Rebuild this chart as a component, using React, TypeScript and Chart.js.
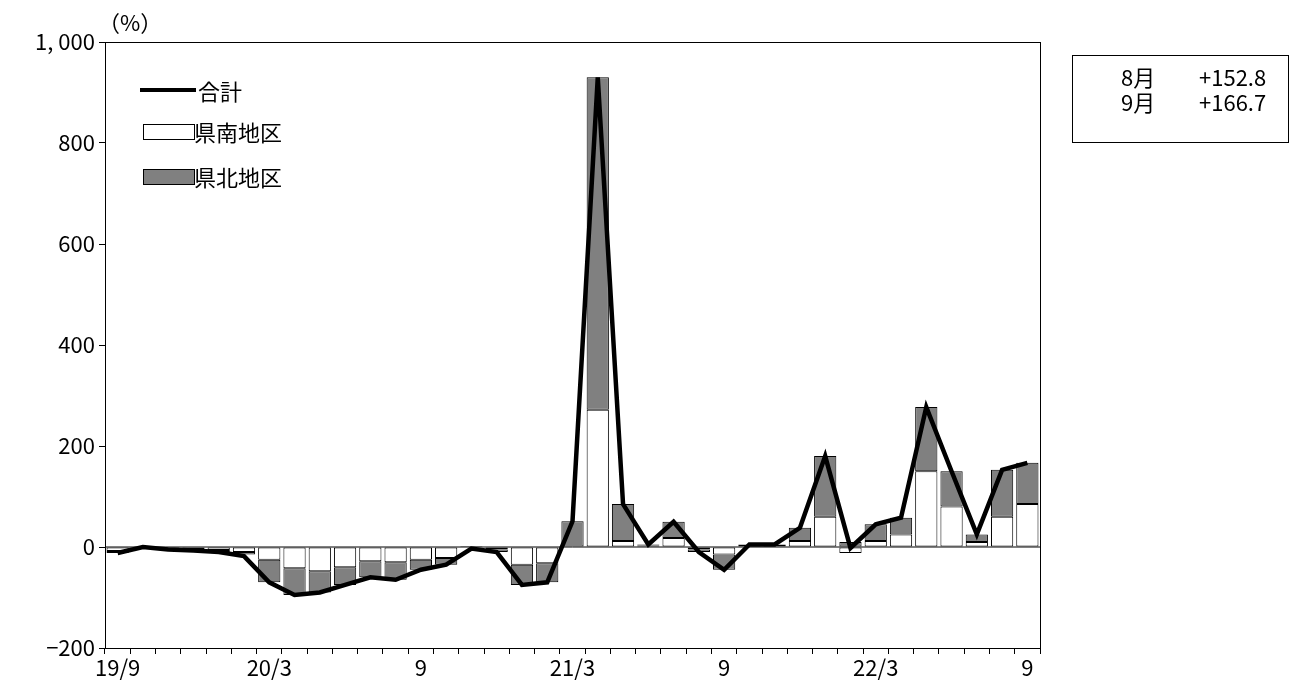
import React, { useEffect, useRef } from "react";
import { Chart, registerables } from "chart.js";
Chart.register(...registerables);

const labels = ["19/9","","","","","","20/3","","","","","","9","","","","","","21/3","","","","","","9","","","","","","22/3","","","","","","9"];
const south = [-8,0,-3,-4,-6,-10,-25,-42,-48,-40,-28,-30,-25,-22,2,-5,-35,-32,0,272,12,3,18,-5,-15,2,2,12,60,-12,12,25,150,80,10,60,85];
const north = [-4,0,-2,-3,-4,-5,-45,-53,-42,-35,-32,-35,-20,-13,0,-5,-40,-38,51,658,73,2,32,-5,-30,3,3,26,120,10,33,33,127,70,15,92.8,81.7];
const total = [-12,0,-5,-7,-10,-18,-70,-95,-90,-75,-60,-65,-45,-35,-3,-10,-75,-70,51,930,85,5,50,-10,-45,5,5,38,180,-2,45,58,277,150,25,152.8,166.7];

const FONT = "'Noto Sans CJK JP', sans-serif";

const frame = {
  id: "frame",
  afterDraw(c: any) {
    const { left, right, top, bottom } = c.chartArea;
    const ctx = c.ctx;
    ctx.save();
    ctx.strokeStyle = "#000";
    ctx.lineWidth = 1;
    ctx.strokeRect(left + 0.5, top + 0.5, right - left, bottom - top);
    const y0 = c.scales.y.getPixelForValue(0);
    ctx.beginPath();
    ctx.moveTo(left, y0); ctx.lineTo(right, y0); ctx.stroke();
    ctx.restore();
  },
};

export default function App() {
  const ref = useRef<HTMLCanvasElement>(null);
  useEffect(() => {
    const c = new Chart(ref.current!, {
      data: {
        labels,
        datasets: [
          { type: "line", data: total, borderColor: "#000", borderWidth: 4.5, pointRadius: 0, tension: 0, order: 0 },
          { type: "bar", data: south, backgroundColor: "#fff", borderColor: "#000", borderWidth: 1, borderSkipped: false, stack: "s", order: 1, categoryPercentage: 1, barPercentage: 0.88 },
          { type: "bar", data: north, backgroundColor: "#808080", borderColor: "#000", borderWidth: 1, borderSkipped: false, stack: "s", order: 1, categoryPercentage: 1, barPercentage: 0.88 },
        ],
      } as any,
      plugins: [frame],
      options: {
        animation: false,
        responsive: false,
        layout: { padding: { top: 42, right: 259, left: 0, bottom: 0 } },
        plugins: { legend: { display: false }, tooltip: { enabled: false } },
        scales: {
          x: {
            stacked: true,
            afterFit: (s: any) => { s.height = 48; },
            grid: { drawOnChartArea: false, offset: true, tickLength: 6, color: "#000" },
            border: { color: "#000" },
            ticks: { autoSkip: false, maxRotation: 0, color: "#000", font: { family: FONT, size: 22 }, padding: 0 },
          },
          y: {
            stacked: true,
            min: -200, max: 1000,
            afterFit: (s: any) => { s.width = 105; },
            grid: { drawOnChartArea: false, tickLength: 6, color: "#000" },
            border: { color: "#000" },
            ticks: {
              stepSize: 200, color: "#000", font: { family: FONT, size: 22 }, padding: 4,
              callback: (v: any) => (v === 1000 ? "1, 000" : v < 0 ? "\u2212" + Math.abs(v) : String(v)),
            },
          },
        },
      },
    });
    return () => c.destroy();
  }, []);
  const t: React.CSSProperties = { position: "absolute", fontFamily: FONT, fontSize: 22, color: "#000", lineHeight: "26px" };
  return (
    <div style={{ position: "absolute", left: 0, top: 0, width: 1299, height: 696, background: "#fff" }}>
      <canvas ref={ref} width={1299} height={696} />
      <div style={{ ...t, left: 98, top: 8 }}>（%）</div>
      <div style={{ position: "absolute", left: 140, top: 88, width: 56, height: 4, background: "#000" }} />
      <div style={{ ...t, left: 198, top: 77 }}>合計</div>
      <div style={{ position: "absolute", left: 143, top: 124, width: 50, height: 14, background: "#fff", border: "1px solid #000" }} />
      <div style={{ ...t, left: 194, top: 118 }}>県南地区</div>
      <div style={{ position: "absolute", left: 143, top: 169, width: 50, height: 14, background: "#808080", border: "1px solid #000" }} />
      <div style={{ ...t, left: 194, top: 163 }}>県北地区</div>
      <div style={{ position: "absolute", left: 1072, top: 55, width: 217, height: 88, border: "1px solid #000", fontFamily: FONT, fontSize: 22, lineHeight: "25px", boxSizing: "border-box", padding: "8px 0 0 48px" }}>
        <div style={{ display: "flex" }}><span style={{ width: 78 }}>8月</span><span>+152.8</span></div>
        <div style={{ display: "flex" }}><span style={{ width: 78 }}>9月</span><span>+166.7</span></div>
      </div>
    </div>
  );
}
